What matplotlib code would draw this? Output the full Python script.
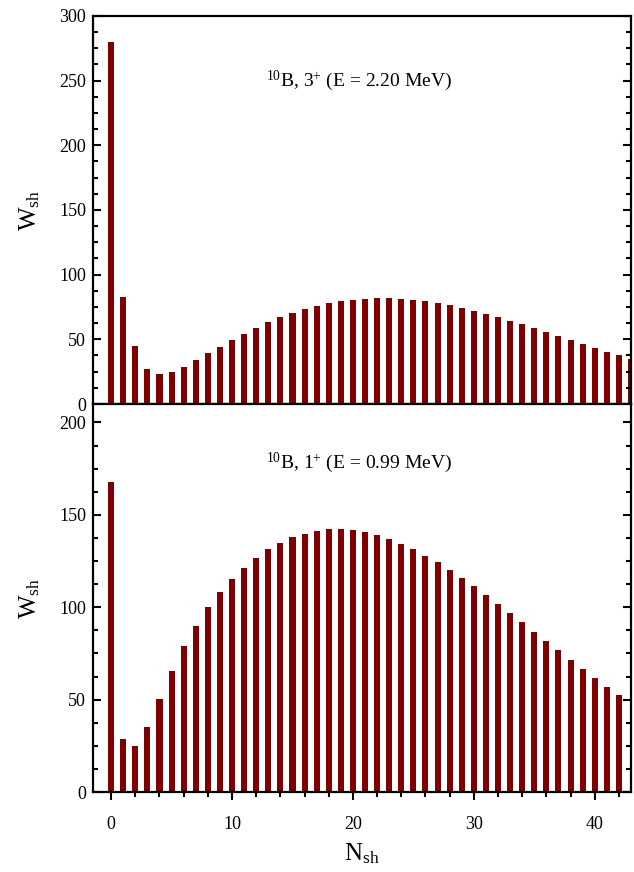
import matplotlib
matplotlib.use("Agg")
import matplotlib.pyplot as plt
from matplotlib.ticker import MultipleLocator
import numpy as np

plt.rcParams['font.family'] = ['Liberation Serif', 'DejaVu Serif']
plt.rcParams['mathtext.fontset'] = 'custom'
plt.rcParams['mathtext.rm'] = 'Liberation Serif'
plt.rcParams['mathtext.it'] = 'Liberation Serif:italic'

# Top panel: 10B, 3+ (E = 2.20 MeV)
n_top = list(range(0, 44))
w_top = [280, 83, 45, 27, 23, 24.5, 28.6, 33.8, 39.2, 44.3,
         49.5, 54.4, 59, 63.2, 67.3, 70.4, 73.2, 76, 77.9, 79.7,
         80.7, 81.5, 81.7, 81.7, 81.2, 80.4, 79.4, 77.9, 76.3, 74.3,
         72.2, 69.9, 67.3, 64.5, 61.6, 58.5, 55.7, 52.6, 49.5, 46.7,
         43.6, 40.5, 37.7, 34.9]

# Bottom panel: 10B, 1+ (E = 0.99 MeV)
n_bot = list(range(0, 43))
w_bot = [168, 28.6, 24.7, 35.1, 50.4, 65.4, 78.9, 90, 99.9, 108,
         115.4, 121.5, 126.8, 131.3, 134.7, 137.8, 139.9, 141.2, 142.1, 142.3,
         141.7, 140.6, 138.9, 137, 134.3, 131.3, 128, 124.3, 120.3, 116,
         111.5, 106.7, 101.9, 96.9, 91.8, 86.8, 81.7, 76.7, 71.7, 66.6,
         61.7, 57.1, 52.4]

labels = [r'$^{10}$B, 3$^{+}$ (E = 2.20 MeV)', r'$^{10}$B, 1$^{+}$ (E = 0.99 MeV)']
color = '#7f0000'

W, H = 634, 872
fig = plt.figure(figsize=(W / 100, H / 100), dpi=100)
left = 93 / W
width = (631 - 93) / W
ax1 = fig.add_axes([left, 1 - 404 / H, width, (404 - 16) / H])
ax2 = fig.add_axes([left, 1 - 792 / H, width, (792 - 404) / H])

ax1.bar(n_top, w_top, width=0.5, color=color, edgecolor='none')
ax2.bar(n_bot, w_bot, width=0.5, color=color, edgecolor='none')

ax1.set_ylim(0, 300)
ax2.set_ylim(0, 210)
for ax in (ax1, ax2):
    ax.set_xlim(-1.5, 43.0)
    ax.xaxis.set_major_locator(MultipleLocator(10))
    ax.xaxis.set_minor_locator(MultipleLocator(2))
    ax.yaxis.set_major_locator(MultipleLocator(50))
    ax.yaxis.set_minor_locator(MultipleLocator(12.5))
    for s in ax.spines.values():
        s.set_linewidth(1.6)
    ax.tick_params(axis='y', which='both', direction='in', left=True, right=True, width=1.5)
    ax.tick_params(axis='y', which='major', length=6, labelsize=13, pad=5)
    ax.tick_params(axis='y', which='minor', length=3.5)
    ax.tick_params(axis='x', which='both', direction='out', top=False, bottom=True, width=1.5)
    ax.tick_params(axis='x', which='major', length=6, labelsize=13, pad=11)
    ax.tick_params(axis='x', which='minor', length=3.5)
    ax.set_ylabel(r'W$_{\mathrm{sh}}$', fontsize=18, labelpad=12)

ax1.tick_params(axis='x', labelbottom=False)
ax1.text(20.5, 250, labels[0], ha='center', va='center', fontsize=14)
ax2.text(20.5, 178, labels[1], ha='center', va='center', fontsize=14)
ax2.set_xlabel(r'N$_{\mathrm{sh}}$', fontsize=18, labelpad=6)

fig.savefig('out.png', dpi=100)
